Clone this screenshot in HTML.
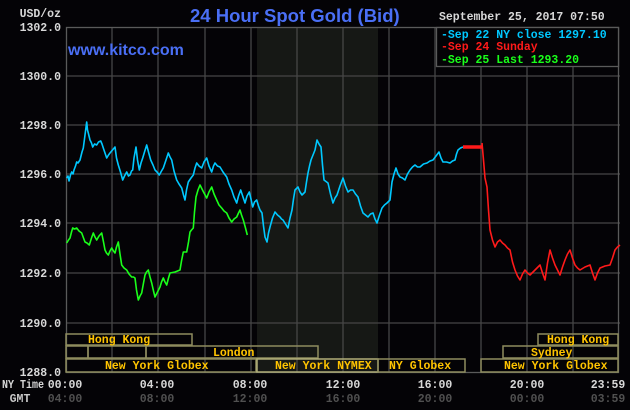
<!DOCTYPE html>
<html><head><meta charset="utf-8"><style>
html,body{margin:0;padding:0;background:#040306;width:630px;height:410px;overflow:hidden}
svg{display:block}
.m{font-family:"Liberation Mono","DejaVu Sans Mono",monospace;font-weight:bold;font-size:11.5px}
</style></head><body>
<svg width="630" height="410" viewBox="0 0 630 410">
<rect width="630" height="410" fill="#040306"/>
<rect x="257" y="27" width="121" height="345" fill="#161815"/>
<g stroke="#464646" stroke-width="1.3">
<line x1="66" y1="76" x2="620" y2="76"/><line x1="66" y1="125" x2="620" y2="125"/>
<line x1="66" y1="174" x2="620" y2="174"/><line x1="66" y1="223" x2="620" y2="223"/>
<line x1="66" y1="273" x2="620" y2="273"/><line x1="66" y1="323" x2="620" y2="323"/>
<line x1="112" y1="27" x2="112" y2="372"/><line x1="158" y1="27" x2="158" y2="372"/>
<line x1="205" y1="27" x2="205" y2="372"/><line x1="251" y1="27" x2="251" y2="372"/>
<line x1="297" y1="27" x2="297" y2="372"/><line x1="343" y1="27" x2="343" y2="372"/>
<line x1="389" y1="27" x2="389" y2="372"/><line x1="435" y1="27" x2="435" y2="372"/>
<line x1="481" y1="27" x2="481" y2="372"/><line x1="527" y1="27" x2="527" y2="372"/>
<line x1="573" y1="27" x2="573" y2="372"/>
</g>
<rect x="66.5" y="27.5" width="552" height="345" fill="none" stroke="#5a5a5a" stroke-width="1.3"/>
<g fill="none" stroke="#8e8c5e" stroke-width="1.5">
<rect x="66" y="334" width="126" height="11"/>
<rect x="66" y="346" width="22" height="12"/><rect x="88" y="346" width="58" height="12"/><rect x="146" y="346" width="172" height="12"/>
<rect x="66" y="359" width="190" height="13"/>
<rect x="257" y="359" width="121" height="13" stroke="#b0ae78"/>
<rect x="378" y="359" width="87" height="13"/>
<rect x="538" y="334" width="80" height="11"/>
<rect x="503" y="346" width="115" height="12"/>
<rect x="481" y="359" width="137" height="13"/>
</g>
<g class="m" fill="#ffc400">
<text x="88" y="343">Hong Kong</text>
<text x="213" y="356">London</text>
<text x="105" y="369">New York Globex</text>
<text x="275" y="369">New York NYMEX</text>
<text x="389" y="369">NY Globex</text>
<text x="547" y="343">Hong Kong</text>
<text x="531" y="356">Sydney</text>
<text x="504" y="369">New York Globex</text>
</g>
<g fill="none" stroke-width="1.6" stroke-linejoin="round">
<polyline stroke="#00c8ff" points="66.7,178 68,176 69,181 70.5,175 71.7,172 73,174 74,170 75.5,166 76.7,162 78,163 80,160 81,156 82,152 83.3,148 85,135 86.7,122 87.5,130 88.3,133 90,140 91.5,143 92.7,147 94.5,144 96.7,145 98.5,142 100.7,141 102,144 103.3,148 105,153 106.7,158 108.5,155 110,153 112.5,150 115,147 116.5,158 118.3,165 120.5,172 122.7,180 124.5,176 126.7,172 128.5,176 130,175 131.5,171 132.7,170 134,158 136,147 137.5,160 139.3,170 141,163 142.7,158 144.5,152 146.7,145 148.5,152 150.7,160 153,165 155,170 157,172 159.3,175 161.5,171 163.3,168 166,160 168.3,153 170,157 171.7,160 174,171 176.7,180 179,184 181.7,188 183.5,195 185,200 186.5,190 188.3,182 191,178 193.3,175 195,168 196.7,163 199,166 201.7,168 204,162 206.7,158 209,166 211.7,172 213.5,166 215,163 217.5,166 220,167 223,172 226.7,177 229,184 231.7,190 234,197 236.7,203 238.5,196 240.7,190 243,197 245,203 247,196 249.3,192 251,199 252.7,207 254.5,202 256.7,200 258.5,206 260,210 262,213 263.5,226 265,237 267,242 268.5,233 270,227 272.5,218 275,212 277.5,215 280,217 281.5,219 283,220 285.5,224 288,228 290,218 292,210 293.5,199 295,190 298,187 300,192 302,195 305,192 306.5,182 308,173 309.5,166 311,160 313,155 315,150 317,140 319,144 321,147 322.5,165 324,180 328,183 330.5,194 333,203 335,198 337,195 340,186 343,178 345.5,186 348,192 350.5,190 353,190 355.5,194 358,197 360.5,206 363,213 365.5,215 368,217 370.5,214 373,213 375,219 377,223 379.5,215 382,208 384.5,205 387,203 390,200 392,182 394,174 396,168 398,174 400,177 402.5,178 405,180 407.5,174 410,170 412.5,167 415,165 417.5,167 420,167 423.5,164 427,163 430,161 433,160 436,156 439,152 441,158 443,162 446.5,162 450,163 452.5,161 455,160 456.5,154 458,150 460.5,148 463,147"/>
<polyline stroke="#ff1a1a" points="482,143 483.5,160 485,178 487,187 488.5,210 490,230 492.5,240 495,247 497.5,242 500,240 502.5,243 505,245 507.5,248 510,250 512.5,262 515,270 517.5,276 520,280 522.5,274 525,270 527.5,273 530,275 535,270 540,265 542.5,273 545,280 547.5,263 550,250 552.5,258 555,265 557.5,270 560,275 562.5,267 565,260 567.5,254 570,250 572.5,258 575,265 577.5,268 580,270 585,267 590,265 592.5,273 595,280 597.5,273 600,268 605,266 610,265 612.5,258 615,250 617.5,247 620,245"/>
<line x1="463" y1="147" x2="482" y2="147" stroke="#ff1a1a" stroke-width="3.5"/>
<polyline stroke="#1aff1a" points="66.7,243 68.5,240 70,238 71.5,232 72.7,228 74.5,229 76.7,228 79,231 81.7,233 83.5,238 85,242 87,243 89.3,245 91.5,238 93.3,233 95,237 96.7,240 99,236 101.7,233 103.5,242 105,250 106.5,253 108.3,255 110,251 111.7,248 113.5,251 115,253 116.5,247 118.3,242 120,254 121.7,265 124,268 126.7,270 129,274 131.7,277 133.5,277 135,278 136.5,290 138.3,300 140,296 141.7,293 143.5,283 145,275 146.5,272 148.3,270 150,277 151.7,283 153.5,291 155,297 157.5,292 160,287 161.5,282 163.3,278 165,282 166.7,285 168.5,278 170,273 175,272 177.5,271 180,270 181.5,261 183.3,252 186.7,252 188.5,242 190,232 191.5,230 193.3,228 194.5,212 196,197 198,190 200,185 203.5,192 206.7,198 209,192 211.7,187 214,194 216.7,200 219,205 221.7,208 224,211 226.7,213 229,218 231.7,222 234,219 236.7,217 238.5,213 240,210 241.5,215 243.3,220 245.5,228 247.3,235"/>
</g>
<rect x="436.5" y="27.5" width="182" height="39" fill="#040306" stroke="#5a5a5a" stroke-width="1.3"/>
<g class="m">
<text x="439" y="20" fill="#d8d8d8">September 25, 2017 07:50</text>
<text x="441" y="38" fill="#00c8ff">-Sep 22 NY close 1297.10</text>
<text x="441" y="50" fill="#ff1a1a">-Sep 24 Sunday</text>
<text x="441" y="63" fill="#1aff1a">-Sep 25 Last 1293.20</text>
</g>
<text x="190" y="22" font-family="Liberation Sans,sans-serif" font-weight="bold" font-size="18.5" fill="#4a6ff5">24 Hour Spot Gold (Bid)</text>
<text x="68" y="55" font-family="Liberation Sans,sans-serif" font-weight="bold" font-size="16" fill="#4a6ff5">www.kitco.com</text>
<g class="m" fill="#d8d8d8" text-anchor="end">
<text x="61" y="17">USD/oz</text>
<text x="61" y="31">1302.0</text><text x="61" y="80">1300.0</text>
<text x="61" y="129">1298.0</text><text x="61" y="178">1296.0</text>
<text x="61" y="227">1294.0</text><text x="61" y="277">1292.0</text>
<text x="61" y="327">1290.0</text><text x="61" y="376">1288.0</text>
</g>
<text x="2" y="388" class="m" fill="#d8d8d8" textLength="42" lengthAdjust="spacingAndGlyphs">NY Time</text>
<g class="m" fill="#d8d8d8" text-anchor="middle">
<text x="65" y="388">00:00</text><text x="157" y="388">04:00</text><text x="250" y="388">08:00</text>
<text x="343" y="388">12:00</text><text x="435" y="388">16:00</text><text x="527" y="388">20:00</text><text x="608" y="388">23:59</text>
</g>
<g class="m" fill="#505050" text-anchor="middle">
<text x="20" y="402" fill="#c8c8c8">GMT</text>
<text x="65" y="402">04:00</text><text x="157" y="402">08:00</text><text x="250" y="402">12:00</text>
<text x="343" y="402">16:00</text><text x="435" y="402">20:00</text><text x="527" y="402">00:00</text><text x="608" y="402">03:59</text>
</g>
</svg>
</body></html>
